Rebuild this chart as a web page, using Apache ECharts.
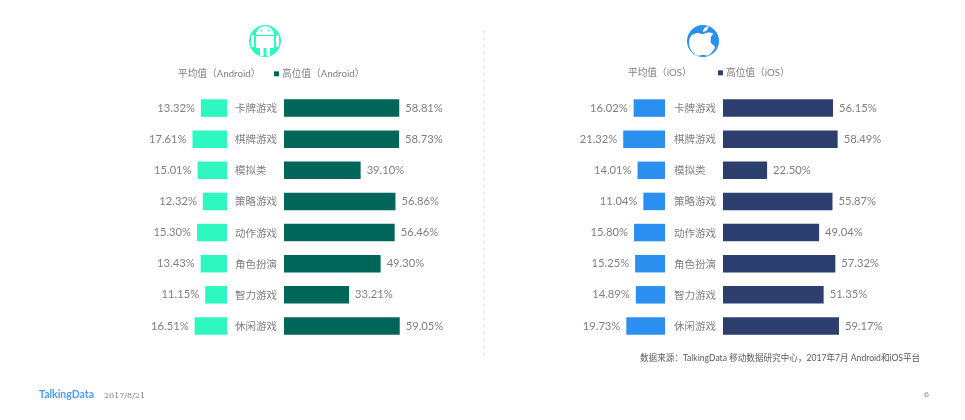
<!DOCTYPE html>
<html><head><meta charset="utf-8">
<style>html,body{margin:0;padding:0;background:#fff}#c{width:965px;height:420px}</style>
<script src="https://cdn.jsdelivr.net/npm/echarts@6/dist/echarts.min.js"></script>
</head><body><div id="c"></div>
<script>
const categories = ['卡牌游戏','棋牌游戏','模拟类','策略游戏','动作游戏','角色扮演','智力游戏','休闲游戏'];
const androidAvg = [13.32,17.61,15.01,12.32,15.30,13.43,11.15,16.51];
const androidHigh = [58.81,58.73,39.10,56.86,56.46,49.30,33.21,59.05];
const iosAvg = [16.02,21.32,14.01,11.04,15.80,15.25,14.89,19.73];
const iosHigh = [56.15,58.49,22.50,55.87,49.04,57.32,51.35,59.17];
const FONT = 'Lato, "Noto Sans CJK SC", sans-serif';
const CJK = '"Noto Sans CJK SC", sans-serif';
const grey = '#7f7f7f';
const mint = '#2ef7bf';
const blue = '#2b8ff0';
const panels = [
  {name:'平均值（Android）',data:androidAvg,color:mint,left:31,inverse:true,cat:false},
  {name:'高位值（Android）',data:androidHigh,color:'#00665a',left:284,inverse:false,cat:true},
  {name:'平均值（iOS）',data:iosAvg,color:blue,left:469,inverse:true,cat:false},
  {name:'高位值（iOS）',data:iosHigh,color:'#2c3f6e',left:723,inverse:false,cat:true}
];
const legends = [
  {i:0,left:173,top:69,icon:false},{i:1,left:274,top:69,icon:true},
  {i:2,left:623,top:68,icon:false},{i:3,left:718,top:68,icon:true}
];
const txt = (x,y,text,style) => ({type:'text',x,y,style:Object.assign({text,fill:grey,font:'10px '+CJK,textVerticalAlign:'middle'},style)});
const white = {fill:'#fff'};
const option = {
  animation:false,
  backgroundColor:'#fff',
  grid:panels.map(p=>({left:p.left,width:196,top:92.5,height:249})),
  xAxis:panels.map((p,i)=>({type:'value',gridIndex:i,min:0,max:100,inverse:p.inverse,show:false})),
  yAxis:panels.map((p,i)=>({type:'category',gridIndex:i,inverse:true,data:categories,
    axisLine:{show:false},axisTick:{show:false},splitLine:{show:false},
    axisLabel:{show:p.cat,margin:7,width:42,align:'left',padding:[0,0,0,-42],color:grey,fontSize:10.5,fontFamily:CJK}})),
  legend:legends.map(l=>({
    data:[{name:panels[l.i].name,itemStyle:l.icon?{}:{opacity:0}}],
    left:l.left,top:l.top,padding:0,itemWidth:l.icon?5:0,itemHeight:5,itemGap:3,icon:'rect',selectedMode:false,
    textStyle:{color:grey,fontSize:9.7,fontFamily:FONT,padding:[0,0,0,l.icon?-2:0]}
  })),
  series:panels.map((p,i)=>({
    type:'bar',name:p.name,xAxisIndex:i,yAxisIndex:i,data:p.data,barWidth:17.5,
    itemStyle:{color:p.color},
    label:{show:true,position:p.inverse?'left':'right',distance:6,color:grey,fontSize:11.2,fontFamily:FONT,
      padding:[1,0,0,0],formatter:v=>v.value.toFixed(2)+'%'}
  })),
  graphic:[
    {type:'line',shape:{x1:484,y1:30,x2:484,y2:360},style:{stroke:'#dedede',lineWidth:1,lineDash:[4,3]}},
    {type:'circle',shape:{cx:265,cy:41,r:16},style:{fill:mint}},
    {type:'sector',shape:{cx:265,cy:35,r:9,r0:0,startAngle:Math.PI,endAngle:2*Math.PI},style:white},
    {type:'rect',shape:{x:256,y:36,width:18,height:12,r:1},style:white},
    {type:'rect',shape:{x:251,y:35,width:3,height:12,r:1.5},style:white},
    {type:'rect',shape:{x:276,y:35,width:3,height:12,r:1.5},style:white},
    {type:'rect',shape:{x:260,y:47,width:3.5,height:9},style:white},
    {type:'rect',shape:{x:266.5,y:47,width:3.5,height:9},style:white},
    {type:'circle',shape:{cx:261.5,cy:30.5,r:1},style:{fill:mint}},
    {type:'circle',shape:{cx:268.5,cy:30.5,r:1},style:{fill:mint}},
    {type:'circle',shape:{cx:703,cy:41,r:16},style:{fill:blue}},
    {type:'polygon',shape:{smooth:0.3,points:[[703,34],[708,32.5],[713,33.5],[711,37],[711,43],[715,47],[712,52],[708,55.5],[703,55],[697,55.5],[691,50],[689,43],[691,36],[697,33]]},style:white},
    {type:'polygon',shape:{smooth:0.3,points:[[703,32],[704.5,28],[708.5,26],[707,30]]},style:white},
    txt(640,358,'数据来源：TalkingData 移动数据研究中心，2017年7月 Android和iOS平台',{fill:'#595959',font:'8.6px Lato, "Noto Sans CJK SC", sans-serif'}),
    txt(39,395,'TalkingData',{fill:'#4d9df5',font:'bold 10.5px Lato, sans-serif'}),
    txt(104,396,'2017/8/21',{fill:'#7f7f7f',font:'8px "DejaVu Serif", serif'}),
    txt(924,395,'6',{fill:'#7f7f7f',font:'8px "DejaVu Serif", serif'})
  ]
};
echarts.init(document.getElementById('c'),null,{renderer:'canvas'}).setOption(option);
</script></body></html>
